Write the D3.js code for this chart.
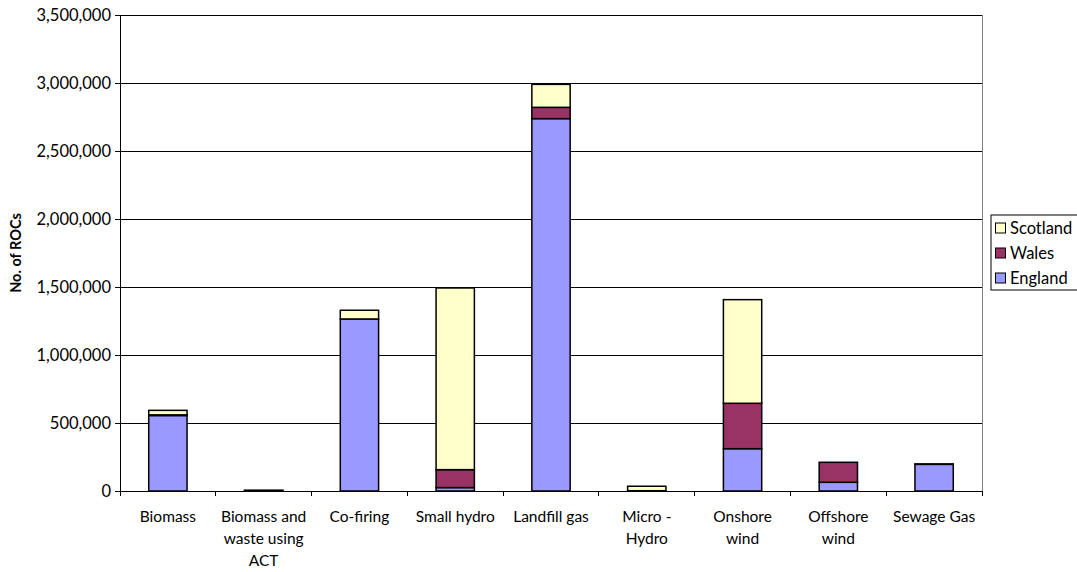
<!DOCTYPE html>
<html>
<head>
<meta charset="utf-8">
<script src="https://cdn.jsdelivr.net/npm/d3@7"></script>
<style>
  html, body { margin: 0; padding: 0; background: #fff; }
  svg { display: block; }
  text { font-family: Lato, "Open Sans", sans-serif; fill: #000; }
</style>
</head>
<body>
<svg id="chart" width="1077" height="572"></svg>
<script>
// Renewables Obligation Certificates issued, by technology and country
const categories = [
  ["Biomass"],
  ["Biomass and", "waste using", "ACT"],
  ["Co-firing"],
  ["Small hydro"],
  ["Landfill gas"],
  ["Micro -", "Hydro"],
  ["Onshore", "wind"],
  ["Offshore", "wind"],
  ["Sewage Gas"]
];
const england  = [555000, 4000, 1265000, 25000, 2738000, 2000, 311000, 64000, 196000];
const wales    = [5000, 1000, 0, 132000, 83000, 0, 334000, 147000, 3000];
const scotland = [33000, 0, 64000, 1336000, 169000, 33000, 762000, 0, 0];
const seriesNames = ["England", "Wales", "Scotland"];
const seriesColors = ["#9999FF", "#993366", "#FFFFCC"];
const yTicks = [0, 500000, 1000000, 1500000, 2000000, 2500000, 3000000, 3500000];

const svg = d3.select("#chart");
const margin = { left: 120, right: 95, top: 15, bottom: 81 };
const W = 1077, H = 572;
const plotW = W - margin.left - margin.right;
const plotH = H - margin.top - margin.bottom;

const g = svg.append("g").attr("transform", `translate(${margin.left},${margin.top})`);

const x = d3.scaleBand().domain(d3.range(categories.length)).range([0, plotW]).paddingInner(0.6).paddingOuter(0.3);
const y = d3.scaleLinear().domain([0, 3500000]).range([plotH, 0]);

// gridlines
g.append("g").selectAll("line").data(yTicks.slice(1)).join("line")
  .attr("x1", 0).attr("x2", plotW)
  .attr("y1", d => y(d)).attr("y2", d => y(d))
  .attr("stroke", "#000").attr("stroke-width", 1).attr("shape-rendering", "crispEdges");

// plot area right edge
g.append("line").attr("x1", plotW).attr("x2", plotW).attr("y1", 0).attr("y2", plotH)
  .attr("stroke", "#808080").attr("shape-rendering", "crispEdges");

// stacked bars
const rows = categories.map((c, i) => ({ England: england[i], Wales: wales[i], Scotland: scotland[i] }));
const stack = d3.stack().keys(seriesNames)(rows);
stack.forEach((layer, si) => {
  g.append("g").selectAll("rect").data(layer.map((d, i) => ({ d, i }))).join("rect")
    .filter(o => o.d[1] - o.d[0] > 0)
    .attr("x", o => x(o.i))
    .attr("y", o => y(o.d[1]))
    .attr("width", x.bandwidth())
    .attr("height", o => y(o.d[0]) - y(o.d[1]))
    .attr("fill", seriesColors[si])
    .attr("stroke", "#000").attr("stroke-width", 1.5);
});

// y axis
const yAxis = d3.axisLeft(y).tickValues(yTicks).tickSize(5).tickFormat(d3.format(","));
const ya = g.append("g").call(yAxis);
ya.select(".domain").attr("stroke", "#000");
ya.selectAll(".tick line").attr("stroke", "#000");
ya.selectAll("text").attr("font-size", 16.5).attr("x", -9).attr("font-family", "Lato, sans-serif");

// x axis with ticks at category boundaries
const xa = g.append("g").attr("transform", `translate(0,${plotH})`);
xa.append("line").attr("x1", 0).attr("x2", plotW).attr("stroke", "#000").attr("shape-rendering", "crispEdges");
const step = plotW / categories.length;
xa.selectAll("line.tk").data(d3.range(categories.length + 1)).join("line").attr("class", "tk")
  .attr("x1", d => d * step).attr("x2", d => d * step).attr("y1", 0).attr("y2", 5)
  .attr("stroke", "#000").attr("shape-rendering", "crispEdges");
xa.selectAll("text.cat").data(categories).join("text").attr("class", "cat")
  .attr("text-anchor", "middle").attr("font-size", 15.5)
  .attr("transform", (d, i) => `translate(${x(i) + x.bandwidth() / 2},${31})`)
  .each(function (lines) {
    d3.select(this).selectAll("tspan").data(lines).join("tspan")
      .attr("x", 0).attr("dy", (l, j) => j === 0 ? 0 : 22).text(l => l);
  });

// y axis title
svg.append("text").attr("transform", `translate(21,${margin.top + plotH / 2}) rotate(-90)`)
  .attr("text-anchor", "middle").attr("font-size", 14.5).attr("font-weight", "bold").text("No. of ROCs");

// legend
const legend = svg.append("g").attr("transform", "translate(991,215)");
legend.append("rect").attr("x", 0).attr("y", 0).attr("width", 90).attr("height", 75)
  .attr("fill", "#fff").attr("stroke", "#000");
const legendOrder = [2, 1, 0];
legendOrder.forEach((si, k) => {
  const ly = 13 + k * 25;
  legend.append("rect").attr("x", 4.5).attr("y", ly - 5).attr("width", 10).attr("height", 10)
    .attr("fill", seriesColors[si]).attr("stroke", "#000");
  legend.append("text").attr("x", 19).attr("y", ly + 5.5).attr("font-size", 16.5).text(seriesNames[si]);
});
</script>
</body>
</html>
